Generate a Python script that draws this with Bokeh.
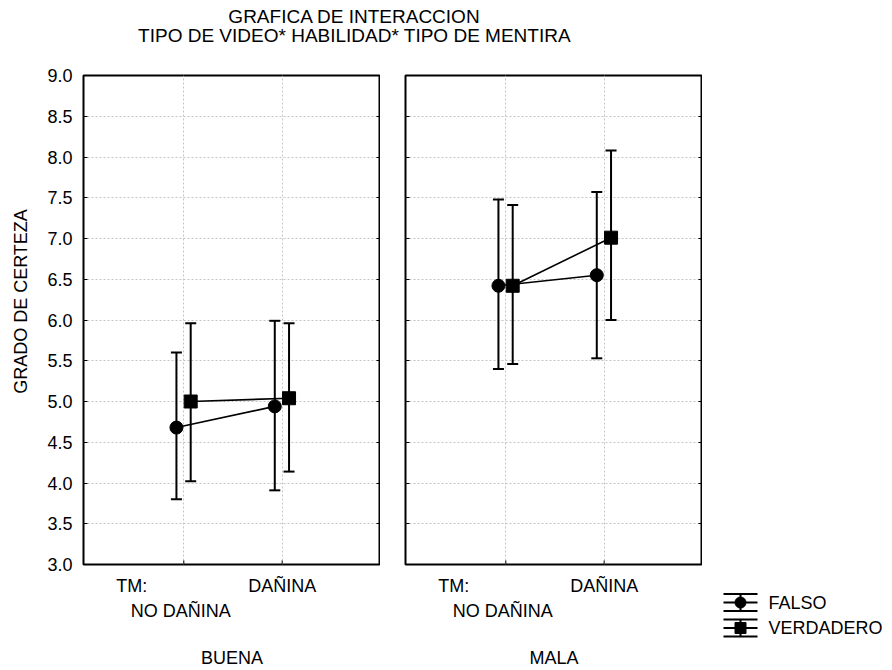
import math
from bokeh.plotting import figure
from bokeh.models import (Range1d, FixedTicker, LinearAxis, Whisker, TeeHead,
                          ColumnDataSource, PrintfTickFormatter, Spacer)
from bokeh.layouts import column, row
from bokeh.embed import file_html
from bokeh.resources import INLINE
from bokeh.core.properties import value

# ---------------- data ----------------
title_lines = ["GRAFICA DE INTERACCION", "TIPO DE VIDEO* HABILIDAD* TIPO DE MENTIRA"]
y_label = "GRADO DE CERTEZA"
factor_name = "TM:"
categories = ["NO DAÑINA", "DAÑINA"]
panels = ["BUENA", "MALA"]
series = ["FALSO", "VERDADERO"]
y_ticks = [3.0, 3.5, 4.0, 4.5, 5.0, 5.5, 6.0, 6.5, 7.0, 7.5, 8.0, 8.5, 9.0]

falso_buena_mean = [4.68, 4.94]
falso_buena_upper = [5.60, 5.99]
falso_buena_lower = [3.80, 3.91]
verdadero_buena_mean = [5.00, 5.04]
verdadero_buena_upper = [5.96, 5.96]
verdadero_buena_lower = [4.02, 4.14]

falso_mala_mean = [6.42, 6.55]
falso_mala_upper = [7.48, 7.57]
falso_mala_lower = [5.40, 5.53]
verdadero_mala_mean = [6.42, 7.01]
verdadero_mala_upper = [7.41, 8.08]
verdadero_mala_lower = [5.46, 6.00]

# ---------------- style ----------------
FONT = "Liberation Sans"
FS = "18px"
FRAME_W = 297
FRAME_H = 489
ROW_H = 610
TOP = 15
BOTTOM = 106
YLAB_W = 34
cat_x = [1.0, 2.0]
dodge = [-0.075, 0.07]
markers = ["circle", "square"]
TM_X = 0.47       # where the factor name sits on the axis
NO_X = 0.97       # where the first level name sits (second row)


def blank_axis(ax, ticks):
    ax.ticker = FixedTicker(ticks=ticks)
    ax.major_label_overrides = {t: "" for t in ticks}
    ax.major_tick_in = 4
    ax.major_tick_out = 0
    ax.minor_tick_line_color = None
    ax.axis_line_color = None
    ax.major_label_standoff = 0
    ax.major_tick_line_color = "black"


def text_axis(ax, ticks, labels, standoff):
    ax.ticker = FixedTicker(ticks=ticks)
    ax.major_label_overrides = dict(zip(ticks, labels))
    ax.major_tick_line_color = None
    ax.minor_tick_line_color = None
    ax.axis_line_color = None
    ax.major_tick_in = 0
    ax.major_tick_out = 0
    ax.major_label_standoff = standoff
    ax.major_label_text_font = FONT
    ax.major_label_text_font_size = FS
    ax.major_label_text_color = "black"


def make_panel(panel_name, means, lowers, uppers, left_border, with_labels):
    p = figure(width=left_border + FRAME_W, height=ROW_H,
               x_range=Range1d(-0.02, 3.0), y_range=Range1d(3.0, 9.0),
               output_backend="svg", toolbar_location=None,
               min_border_left=left_border, min_border_right=0,
               min_border_top=TOP, min_border_bottom=BOTTOM)
    p.outline_line_color = "black"
    p.outline_line_width = 2
    p.background_fill_color = "white"
    p.border_fill_color = "white"

    # grid
    p.xgrid.ticker = FixedTicker(ticks=cat_x)
    p.ygrid.ticker = FixedTicker(ticks=y_ticks)
    for g in (p.xgrid, p.ygrid):
        g.grid_line_color = "#c4c4c4"
        g.grid_line_dash = "2 2"
        g.grid_line_width = 1

    # x axes carrying the level names
    text_axis(p.xaxis[0], [TM_X, cat_x[1]], [factor_name, categories[1]], 11)
    ax2 = LinearAxis()
    text_axis(ax2, [NO_X], [categories[0]], 2)
    ax2.axis_label = panel_name
    ax2.axis_label_text_font = FONT
    ax2.axis_label_text_font_size = FS
    ax2.axis_label_text_font_style = "normal"
    ax2.axis_label_text_color = "black"
    ax2.axis_label_standoff = 24
    p.add_layout(ax2, "below")

    # y axis
    ya = p.yaxis[0]
    if with_labels:
        ya.ticker = FixedTicker(ticks=y_ticks)
        ya.formatter = PrintfTickFormatter(format="%.1f")
        ya.major_tick_in = 4
        ya.major_tick_out = 0
        ya.minor_tick_line_color = None
        ya.axis_line_color = None
        ya.major_label_standoff = 11
        ya.major_label_text_font = FONT
        ya.major_label_text_font_size = FS
        ya.major_label_text_color = "black"
    else:
        blank_axis(ya, y_ticks)
    ra = LinearAxis()
    blank_axis(ra, y_ticks)
    p.add_layout(ra, "right")

    # small inward ticks at the category positions on the bottom edge
    p.segment(x0=cat_x, y0=[3.0, 3.0], x1=cat_x, y1=[3.05, 3.05],
              line_color="black", line_width=1)

    # series
    for i in range(2):
        xs = [c + dodge[i] for c in cat_x]
        src = ColumnDataSource(dict(x=xs, y=means[i], lo=lowers[i], hi=uppers[i]))
        w = Whisker(base="x", upper="hi", lower="lo", source=src, dimension="height",
                    line_color="black", line_width=2,
                    upper_head=TeeHead(size=11, line_width=2, line_color="black"),
                    lower_head=TeeHead(size=11, line_width=2, line_color="black"))
        p.add_layout(w)
        p.line("x", "y", source=src, line_color="black", line_width=1.6)
    for i in range(2):
        xs = [c + dodge[i] for c in cat_x]
        src = ColumnDataSource(dict(x=xs, y=means[i]))
        p.scatter("x", "y", source=src, marker=markers[i], size=13,
                  fill_color="black", line_color="black")
    return p


# ---------------- y-axis title strip ----------------
py = figure(width=YLAB_W, height=ROW_H, x_range=Range1d(0, YLAB_W), y_range=Range1d(FRAME_H, 0),
            output_backend="svg", toolbar_location=None,
            min_border_left=0, min_border_right=0,
            min_border_top=TOP, min_border_bottom=BOTTOM)
py.axis.visible = False
py.grid.visible = False
py.outline_line_color = None
py.text(x=[20], y=[226], text=[y_label], angle=math.pi / 2, text_font=value(FONT),
        text_font_size=FS, text_align="center", text_baseline="middle", text_color="black")

p1 = make_panel(panels[0],
                [falso_buena_mean, verdadero_buena_mean],
                [falso_buena_lower, verdadero_buena_lower],
                [falso_buena_upper, verdadero_buena_upper],
                83 - YLAB_W, True)
p2 = make_panel(panels[1],
                [falso_mala_mean, verdadero_mala_mean],
                [falso_mala_lower, verdadero_mala_lower],
                [falso_mala_upper, verdadero_mala_upper],
                25, False)

# ---------------- legend figure ----------------
LW = 892 - (83 + FRAME_W) - (25 + FRAME_W)
LH = 90
pl = figure(width=LW, height=LH, x_range=Range1d(0, LW), y_range=Range1d(LH, 0),
            output_backend="svg", toolbar_location=None,
            min_border=0, min_border_left=0, min_border_right=0,
            min_border_top=0, min_border_bottom=0)
pl.axis.visible = False
pl.grid.visible = False
pl.outline_line_color = None
for i, name in enumerate(series):
    ym = 22 + i * 25.5
    pl.segment(x0=[38], y0=[ym - 8.5], x1=[38], y1=[ym + 8.5], line_color="black", line_width=2)
    pl.segment(x0=[21, 21, 21], y0=[ym - 8.5, ym, ym + 8.5], x1=[55, 55, 55],
               y1=[ym - 8.5, ym, ym + 8.5], line_color="black", line_width=2)
    pl.scatter(x=[38], y=[ym], marker=markers[i], size=11, fill_color="black", line_color="black")
    pl.text(x=[66], y=[ym], text=[name], text_font=value(FONT), text_font_size=FS,
            text_baseline="middle", text_align="left", text_color="black")

legend_col = column(Spacer(width=LW, height=ROW_H - LH), pl, spacing=0)

# ---------------- title figure ----------------
pt = figure(width=892, height=60, x_range=Range1d(0, 892), y_range=Range1d(60, 0),
            output_backend="svg", toolbar_location=None,
            min_border=0, min_border_left=0, min_border_right=0,
            min_border_top=0, min_border_bottom=0)
pt.axis.visible = False
pt.grid.visible = False
pt.outline_line_color = None
pt.text(x=[354, 354], y=[16, 35], text=title_lines, text_font=value(FONT),
        text_font_size="19px", text_align="center", text_baseline="middle", text_color="black")

layout = column(pt, row(py, p1, p2, legend_col, spacing=0), spacing=0)
open("out.html", "w").write(file_html(layout, INLINE))
